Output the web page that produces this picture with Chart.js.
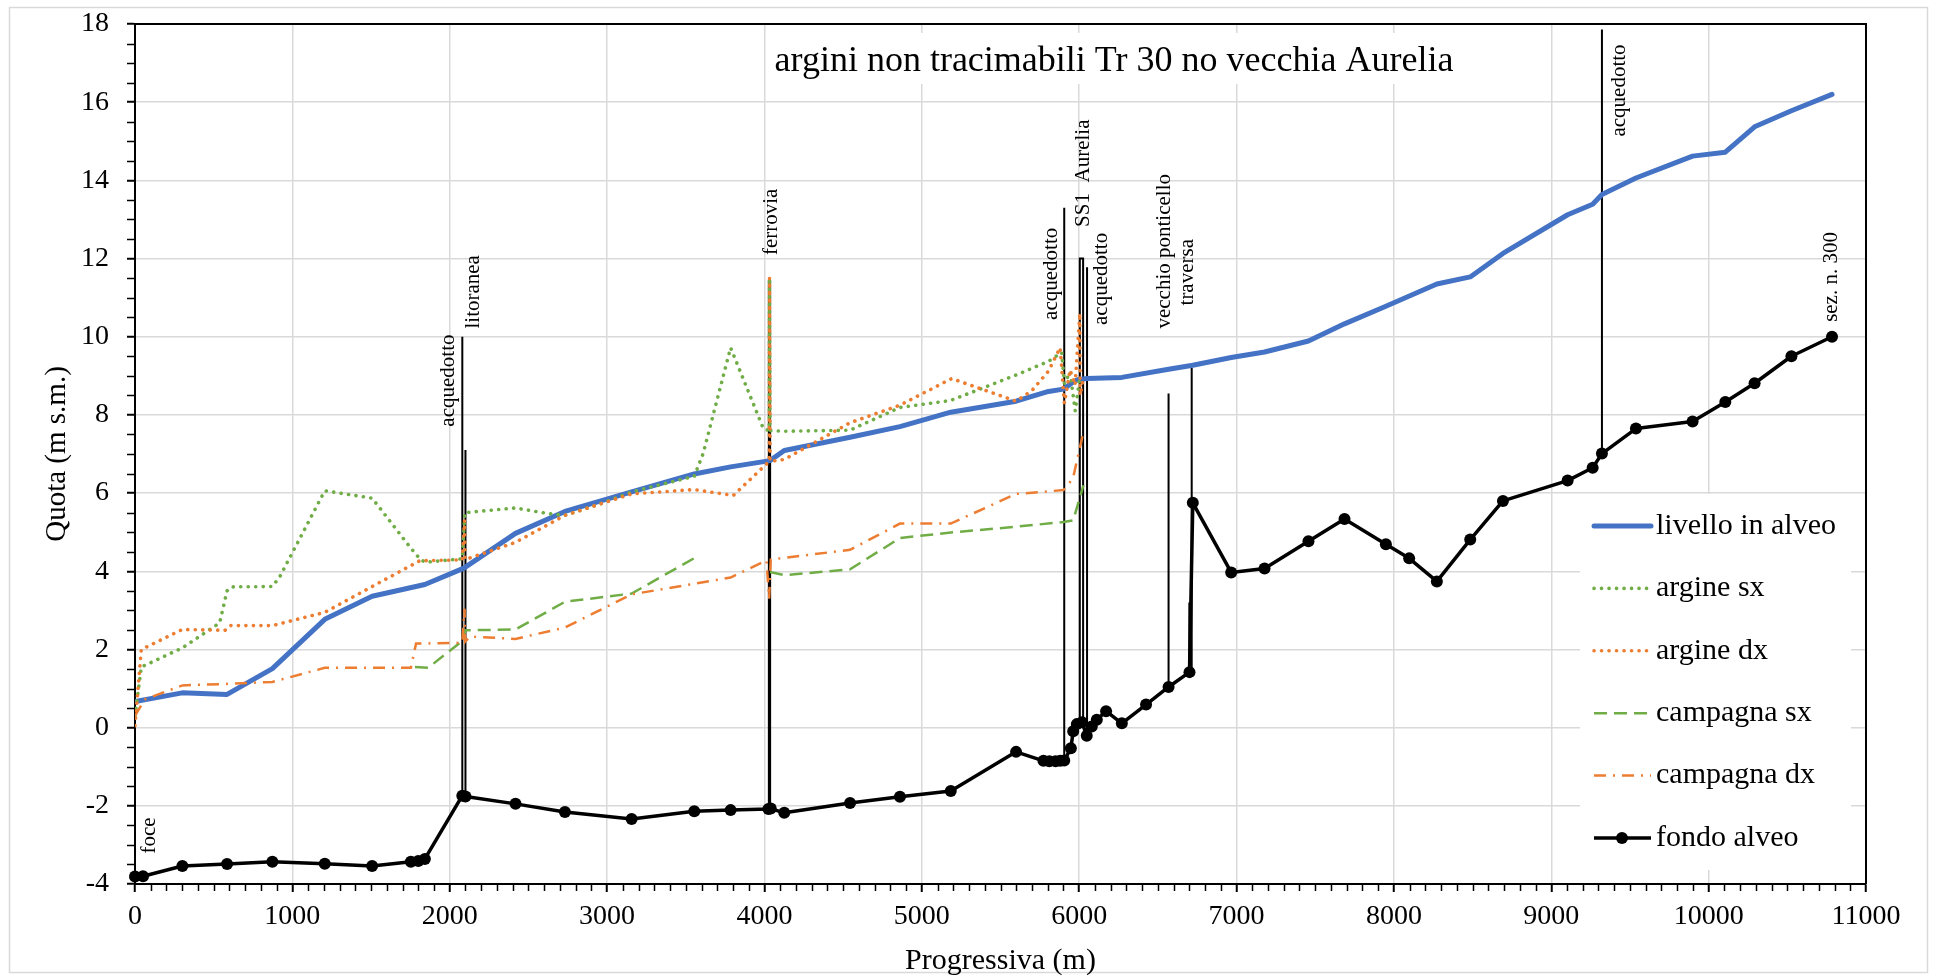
<!DOCTYPE html>
<html lang="it">
<head>
<meta charset="UTF-8">
<title>Profilo longitudinale</title>
<script src="https://cdn.jsdelivr.net/npm/chart.js@4.4.1/dist/chart.umd.min.js"></script>
<style>
  html, body { margin: 0; padding: 0; background: #fff; }
  canvas { display: block; }
</style>
</head>
<body>
<canvas id="chart" width="1935" height="979"></canvas>
<script>
// progressive (m) e quote (m s.m.) delle sezioni
const livelloX = [0,300,585,873,1206,1507,1842,2090,2418,2732,3156,3554,3785,4035,4126,4544,4861,5184,5599,5805,5900,5962,5990,6048,6271,6568,6722,6966,7178,7457,7686,7949,8273,8485,8693,9104,9263,9322,9538,9898,10106,10292,10526,10784];
const livelloY = [0.67,0.89,0.85,1.51,2.77,3.36,3.66,4.08,4.97,5.53,6.03,6.49,6.67,6.83,7.09,7.43,7.70,8.07,8.35,8.60,8.66,8.84,8.90,8.93,8.96,9.17,9.27,9.47,9.61,9.89,10.33,10.78,11.35,11.53,12.13,13.12,13.39,13.64,14.06,14.62,14.72,15.37,15.78,16.20];

const argineSxX = [0,40,301,538,585,613,873,920,1206,1507,1753,1810,1842,2080,2096,2418,2619,2732,2975,3156,3554,3611,3785,3993,4030,4032,4036,4126,4544,4861,5184,5599,5805,5889,5906,5942,5975,6000];
const argineSxY = [0.3,1.55,2.04,2.68,3.5,3.6,3.61,3.86,6.06,5.87,4.59,4.32,4.23,4.32,5.5,5.62,5.48,5.43,5.75,6.03,6.43,7.02,9.72,7.65,7.6,11.5,7.6,7.58,7.61,8.19,8.37,9.02,9.37,9.6,8.8,9.1,8.1,8.85];

const argineDxX = [0,40,301,572,604,873,1206,1507,1810,2080,2094,2098,2418,2732,3156,3554,3802,4030,4032,4036,4126,4544,4861,5190,5599,5699,5805,5879,5906,5942,5974,6004,6006,6025];
const argineDxY = [0.05,2.0,2.51,2.49,2.61,2.61,2.95,3.61,4.27,4.29,5.3,4.3,4.74,5.43,5.98,6.09,5.94,6.81,11.5,6.81,6.86,7.8,8.25,8.93,8.35,8.62,9.12,9.72,8.3,9.15,8.76,10.6,8.5,8.9];

const campagnaSxX = [1779,1863,2080,2100,2418,2732,3156,3569,3800,4035,4126,4544,4861,5184,5599,5900,5962,6027];
const campagnaSxY = [1.55,1.53,2.22,2.49,2.51,3.22,3.43,4.37,null,3.98,3.9,4.05,4.85,4.99,5.14,5.26,5.3,6.2];

const campagnaDxX = [0,60,301,585,873,1206,1507,1753,1786,2080,2094,2098,2128,2418,2732,3156,3554,3785,4013,4030,4040,4544,4861,5184,5599,5795,5900,5960,6025];
const campagnaDxY = [0.3,0.72,1.08,1.12,1.17,1.53,1.53,1.53,2.15,2.17,3.04,2.2,2.33,2.27,2.56,3.41,3.68,3.84,4.28,3.3,4.3,4.55,5.22,5.22,5.98,6.04,6.08,6.37,7.53];

const fondoX = [0,51,301,585,873,1206,1507,1753,1800,1842,2080,2100,2418,2732,3156,3554,3785,4025,4040,4126,4544,4861,5184,5599,5773,5810,5850,5880,5905,5947,5962,5985,6018,6048,6080,6112,6171,6271,6425,6568,6701,6722,6966,7178,7457,7686,7949,8097,8273,8485,8693,9104,9263,9322,9538,9898,10106,10292,10526,10784];
const fondoY = [-3.81,-3.8,-3.54,-3.49,-3.43,-3.48,-3.54,-3.43,-3.41,-3.36,-1.74,-1.76,-1.95,-2.16,-2.34,-2.14,-2.11,-2.08,-2.07,-2.18,-1.93,-1.77,-1.62,-0.62,-0.85,-0.86,-0.86,-0.85,-0.84,-0.53,-0.09,0.09,0.14,-0.21,0.03,0.2,0.42,0.11,0.59,1.04,1.42,5.75,3.97,4.07,4.77,5.34,4.69,4.33,3.74,4.81,5.8,6.32,6.65,7.01,7.65,7.83,8.33,8.81,9.5,10.0];

// opere trasversali: progressiva, quota di fondo, quota di sommità
const opereX = [2080,2100,4028,4036,5905,6050,6568,6700,6715,9322];
const opereFondo = [-1.74,-1.76,-2.08,-2.07,-0.84,-0.21,1.04,1.42,1.42,7.01];
const opereTop = [10.0,7.1,11.45,11.45,13.3,11.78,8.55,3.2,9.2,17.86];
// SS1 Aurelia: impalcato a due pile
const ss1X = [6004,6004,6025,6025];
const ss1Y = [0.12,12.0,12.0,0.1];

// etichette verticali (progressiva, quota di inizio testo)
const etichette = ['foce','acquedotto','litoranea','ferrovia','acquedotto','SS1  Aurelia','acquedotto','vecchio ponticello','traversa','acquedotto','sez. n. 300'];
const etichetteX = [94,1992,2153,4047,5826,6025,6141,6544,6686,9432,10781];
const etichetteY = [-3.22,7.7,10.21,12.09,10.43,12.81,10.3,10.21,10.8,15.12,10.38];

const titolo = 'argini non tracimabili Tr 30 no vecchia Aurelia';
const FONT = '"Liberation Serif", "Times New Roman", serif';

function punti(xs, ys) {
  return xs.map((x, i) => ({ x: x, y: ys[i] }));
}

function opere() {
  const out = [];
  opereX.forEach((x, i) => {
    out.push({ x: x, y: opereFondo[i] }, { x: x, y: opereTop[i] }, { x: x, y: null });
  });
  ss1X.forEach((x, i) => out.push({ x: x, y: ss1Y[i] }));
  return out;
}

const cornice = {
  id: 'cornice',
  beforeDraw(chart) {
    const ctx = chart.ctx;
    ctx.save();
    ctx.fillStyle = '#fff';
    ctx.fillRect(0, 0, chart.width, chart.height);
    ctx.strokeStyle = '#d9d9d9';
    ctx.lineWidth = 1.5;
    ctx.strokeRect(9.5, 7.5, 1918, 965);
    ctx.restore();
  },
  afterDraw(chart) {
    const ctx = chart.ctx;
    const a = chart.chartArea;
    const xs = chart.scales.x, ys = chart.scales.y;
    ctx.save();
    ctx.strokeStyle = '#000';
    ctx.lineWidth = 2;
    ctx.beginPath();
    ctx.moveTo(a.left, a.top);
    ctx.lineTo(a.right, a.top);
    ctx.lineTo(a.right, a.bottom);
    ctx.stroke();
    // tacche secondarie
    ctx.lineWidth = 1.5;
    ctx.beginPath();
    for (let v = 100; v < 11000; v += 100) {
      if (v % 1000 === 0) continue;
      const x = Math.round(xs.getPixelForValue(v)) + 0.5;
      ctx.moveTo(x, a.bottom);
      ctx.lineTo(x, a.bottom + 7);
    }
    for (let v = -3.5; v < 18; v += 0.5) {
      if (v % 2 === 0) continue;
      const y = Math.round(ys.getPixelForValue(v)) + 0.5;
      ctx.moveTo(a.left - 8, y);
      ctx.lineTo(a.left, y);
    }
    ctx.stroke();
    ctx.restore();
  }
};

const annotazioni = {
  id: 'annotazioni',
  afterDatasetsDraw(chart) {
    const ctx = chart.ctx;
    const xs = chart.scales.x, ys = chart.scales.y;
    ctx.save();
    // etichette delle opere
    ctx.fillStyle = '#000';
    ctx.font = '21px ' + FONT;
    ctx.textAlign = 'left';
    ctx.textBaseline = 'middle';
    etichette.forEach((t, i) => {
      ctx.save();
      ctx.translate(xs.getPixelForValue(etichetteX[i]), ys.getPixelForValue(etichetteY[i]));
      ctx.rotate(-Math.PI / 2);
      ctx.fillText(t, 0, 0);
      ctx.restore();
    });

    // titolo dentro l'area del grafico
    ctx.font = '36px ' + FONT;
    const w = ctx.measureText(titolo).width;
    const cx = 1114;
    ctx.fillStyle = '#fff';
    ctx.fillRect(cx - w / 2 - 8, 33, w + 16, 51);
    ctx.fillStyle = '#000';
    ctx.textAlign = 'center';
    ctx.textBaseline = 'alphabetic';
    ctx.fillText(titolo, cx, 71);

    // legenda
    const voci = chart.data.datasets.filter(d => d.inLegenda);
    ctx.fillStyle = '#fff';
    ctx.fillRect(1580, 494, 271, 376);
    voci.forEach((d, i) => {
      const y = 526 + i * 62.4;
      ctx.beginPath();
      ctx.strokeStyle = d.borderColor;
      ctx.lineWidth = d.borderWidth;
      ctx.setLineDash(d.borderDash || []);
      ctx.lineCap = d.borderCapStyle || 'butt';
      ctx.moveTo(1594, y);
      ctx.lineTo(1651, y);
      ctx.stroke();
      ctx.setLineDash([]);
      if (d.pointRadius) {
        ctx.beginPath();
        ctx.arc(1622, y, d.pointRadius, 0, Math.PI * 2);
        ctx.fillStyle = d.pointBackgroundColor;
        ctx.fill();
      }
      ctx.fillStyle = '#000';
      ctx.font = '30px ' + FONT;
      ctx.textAlign = 'left';
      ctx.textBaseline = 'middle';
      ctx.fillText(d.label, 1656, y);
    });
    ctx.restore();
  }
};

const ctx = document.getElementById('chart').getContext('2d');
new Chart(ctx, {
  type: 'line',
  data: {
    datasets: [
      {
        label: 'livello in alveo', inLegenda: true, order: 5,
        data: punti(livelloX, livelloY),
        borderColor: '#4472c4', borderWidth: 5, borderCapStyle: 'round', borderJoinStyle: 'round',
        pointRadius: 0
      },
      {
        label: 'argine sx', inLegenda: true, order: 4,
        data: punti(argineSxX, argineSxY),
        borderColor: '#70ad47', borderWidth: 3.6, borderDash: [0.1, 7.4], borderCapStyle: 'round',
        pointRadius: 0
      },
      {
        label: 'argine dx', inLegenda: true, order: 3,
        data: punti(argineDxX, argineDxY),
        borderColor: '#ed7d31', borderWidth: 3.6, borderDash: [0.1, 7.4], borderCapStyle: 'round',
        pointRadius: 0
      },
      {
        label: 'campagna sx', inLegenda: true, order: 2,
        data: punti(campagnaSxX, campagnaSxY),
        borderColor: '#70ad47', borderWidth: 2.5, borderDash: [13, 7],
        pointRadius: 0, spanGaps: false
      },
      {
        label: 'campagna dx', inLegenda: true, order: 1,
        data: punti(campagnaDxX, campagnaDxY),
        borderColor: '#ed7d31', borderWidth: 2.5, borderDash: [12, 7, 2, 7],
        pointRadius: 0
      },
      {
        label: 'fondo alveo', inLegenda: true, order: 0,
        data: punti(fondoX, fondoY),
        borderColor: '#000', borderWidth: 3.5, borderJoinStyle: 'round',
        pointRadius: 6, pointBackgroundColor: '#000', pointBorderWidth: 0,
        clip: false
      },
      {
        label: 'opere', order: 6,
        data: opere(),
        borderColor: '#000', borderWidth: 2,
        pointRadius: 0, spanGaps: false
      }
    ]
  },
  options: {
    responsive: false,
    animation: false,
    devicePixelRatio: 1,
    events: [],
    layout: { padding: { top: 24, right: 69, bottom: 0, left: 0 } },
    elements: { line: { tension: 0 } },
    plugins: {
      legend: { display: false },
      title: { display: false },
      tooltip: { enabled: false }
    },
    scales: {
      x: {
        type: 'linear', min: 0, max: 11000,
        afterFit(scale) {
          scale.height = 95;
          scale.paddingLeft = 0;
          scale.paddingRight = 0;
        },
        ticks: {
          stepSize: 1000, color: '#000', padding: 8,
          font: { family: FONT, size: 28 },
          callback: v => String(v)
        },
        grid: { color: '#d9d9d9', lineWidth: 1.5, tickLength: 8, tickColor: '#000', tickWidth: 2 },
        border: { color: '#000', width: 2 },
        title: {
          display: true, text: 'Progressiva (m)', color: '#000',
          font: { family: FONT, size: 30, lineHeight: 1.2 },
          padding: { top: 0, bottom: 0 }
        }
      },
      y: {
        type: 'linear', min: -4, max: 18,
        afterFit(scale) {
          scale.width = 135;
          scale.paddingTop = 0;
          scale.paddingBottom = 0;
        },
        ticks: {
          stepSize: 2, color: '#000', padding: 18,
          font: { family: FONT, size: 28 },
          callback: v => String(v)
        },
        grid: { color: '#d9d9d9', lineWidth: 1.5, tickLength: 8, tickColor: '#000', tickWidth: 2 },
        border: { color: '#000', width: 2 },
        title: {
          display: true, text: 'Quota (m s.m.)', color: '#000',
          font: { family: FONT, size: 29, lineHeight: 1.2 },
          padding: { top: 40, bottom: 0 }
        }
      }
    }
  },
  plugins: [cornice, annotazioni]
});
</script>
</body>
</html>
